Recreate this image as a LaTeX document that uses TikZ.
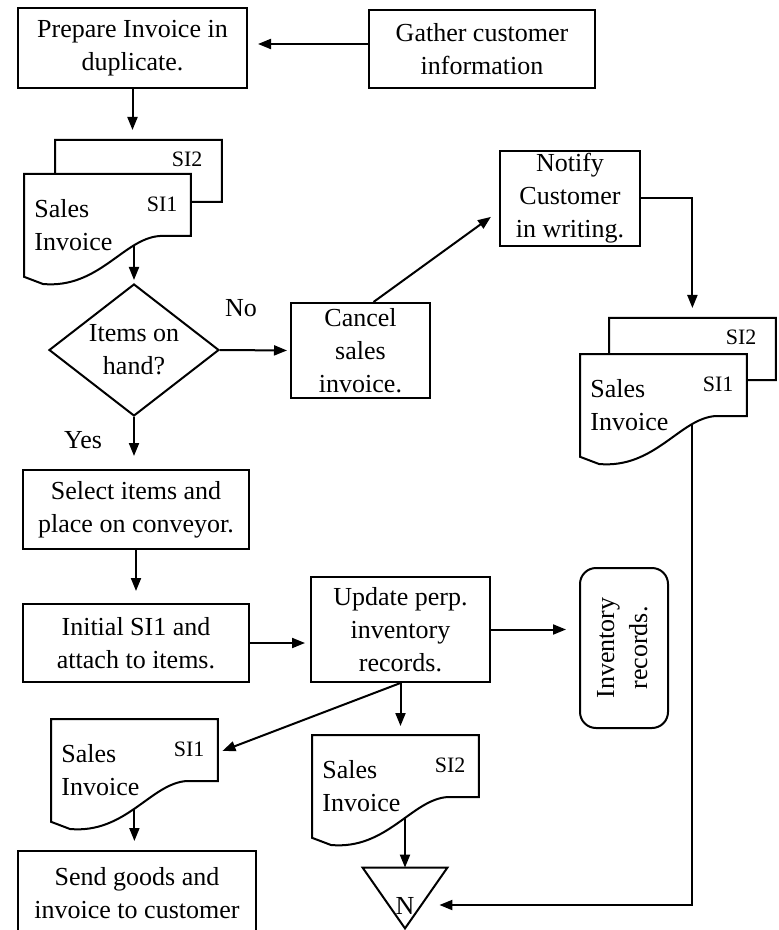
\documentclass[tikz,border=0pt]{standalone}
\usepackage{fontspec}
\usepackage{graphicx}
\setmainfont{Liberation Serif}
\usetikzlibrary{arrows.meta,shapes.geometric,calc}

\pgfdeclarelayer{lines}
\pgfdeclarelayer{docs}
\pgfsetlayers{lines,docs,main}

% outline of a sales invoice document
\newcommand{\docoutline}[1]{%
    \filldraw[fill=white, line width=1pt]
        (#1.north west) -- (#1.north east) -- ($(#1.north east)+(0,62)$)
        -- ($(#1.north west)+(136,62)$)
        .. controls ($(#1.north west)+(100,64)$) and ($(#1.north west)+(75,115)$)
        .. ($(#1.north west)+(19,110)$) -- (#1.south west) -- cycle;}

\begin{document}
\begin{tikzpicture}[
    x=0.5pt, y=-0.5pt,
    font=\fontsize{13}{16.5}\selectfont,
    boxnode/.style={draw, line width=1pt, align=center, inner sep=0pt},
    decisionnode/.style={draw, diamond, aspect=1.3, line width=1pt, align=center, inner sep=0pt, minimum width=85pt, minimum height=66pt},
    recordnode/.style={draw, rounded corners=8pt, line width=1pt, inner sep=0pt, minimum width=44pt, minimum height=80pt},
    invoice/.style={anchor=north west, minimum width=83pt, minimum height=51pt, text width=73pt, inner xsep=5pt, inner ysep=0pt, align=left},
    silabel/.style={anchor=north east, inner sep=0pt, font=\fontsize{11}{13}\selectfont},
    frontdoc/.style={invoice, label={[silabel, xshift=-6.5pt, yshift=-11.5pt]north east:#1}},
    backdoc/.style={invoice, label={[silabel, xshift=-9.5pt, yshift=-6pt]north east:#1}},
    flow/.style={->, >={Triangle[length=6.5pt, width=5pt]}, line width=1pt}
    ]
    \useasboundingbox (0,0) rectangle (778,930);

        %Nodes
        \node[boxnode, minimum width=114.5pt, minimum height=40pt]
            (prep) at (132.5,48) {Prepare Invoice in\\duplicate.};
        \node[boxnode, minimum width=113pt, minimum height=39pt]
            (gather) at (482,49) {Gather customer\\information};
        \node[backdoc=SI2] (doc1b) at (55,140) {};
        \node[frontdoc=SI1] (doc1) at (24,174) {Sales\\Invoice};
        \node[decisionnode] (hand) at (134,350) {Items on\\hand?};
        \node (no) at (241,308) {No};
        \node (yes) at (83,440) {Yes};
        \node[boxnode, minimum width=69.5pt, minimum height=47.5pt]
            (cancel) at (360.5,350.5) {Cancel\\sales\\invoice.};
        \node[boxnode, minimum width=70pt, minimum height=47.5pt]
            (notify) at (570,198.5) {Notify\\Customer\\in writing.};
        \node[backdoc=SI2] (doc2b) at (609,318) {};
        \node[frontdoc=SI1] (doc2) at (580,354) {Sales\\Invoice};
        \node[boxnode, minimum width=113pt, minimum height=39.5pt]
            (select) at (136,509.5) {Select items and\\place on conveyor.};
        \node[boxnode, minimum width=113pt, minimum height=39pt]
            (initial) at (136,643) {Initial SI1 and\\attach to items.};
        \node[boxnode, minimum width=89.5pt, minimum height=52.5pt]
            (update) at (400.5,629.5) {Update perp.\\inventory\\records.};
        \node[recordnode]
            (records) at (624,648) {\rotatebox{90}{\begin{tabular}{@{}c@{}}Inventory\\records.\end{tabular}}};
        \node[frontdoc=SI1] (doc3) at (51,719) {Sales\\Invoice};
        \node[frontdoc=SI2] (doc4) at (312,735) {Sales\\Invoice};
        \node[boxnode, minimum width=119pt, minimum height=42pt]
            (send) at (137,893) {Send goods and\\invoice to customer};
        \node[minimum width=42pt, minimum height=30pt, inner sep=0pt, text height=16.6pt, text depth=0pt]
            (offpage) at (405,898) {N};
        \draw[line width=1pt] (offpage.north west) -- (offpage.north east) -- (offpage.south) -- cycle;

        %Documents
        \begin{pgfonlayer}{docs}
            \docoutline{doc1b}
            \docoutline{doc1}
            \docoutline{doc2b}
            \docoutline{doc2}
            \docoutline{doc3}
            \docoutline{doc4}
        \end{pgfonlayer}

        %Lines
        \begin{pgfonlayer}{lines}
            \draw[flow, shorten >=5pt] ([yshift=2.5pt]gather.west) -- ([yshift=2.5pt]gather.west -| prep.east);
            \draw[flow, shorten >=5pt] (prep.south) -- (prep.south |- doc1b.north);
            \draw[flow, shorten >=1.5pt] (hand.north |- doc1.center) -- (hand.north);
            \draw[flow, shorten >=1.5pt] (hand.east) -- (cancel.west);
            \draw[flow, shorten >=5pt] (cancel.75) -- (notify.190);
            \draw[flow, shorten >=5pt] (notify.east) -| (doc2b.north);
            \draw[flow] (doc2b.north |- doc2.center) |- ([xshift=-4pt, yshift=-3.5pt]offpage.east);
            \draw[flow, shorten >=6.5pt] (hand.south) -- (hand.south |- select.north);
            \draw[flow, shorten >=6pt] (select.south) -- (initial.north);
            \draw[flow, shorten >=2.5pt] (initial.east) -- (initial.east -| update.west);
            \draw[flow, shorten >=6.5pt] (update.east) -- (update.east -| records.west);
            \draw[flow, shorten >=2.5pt] (update.south) -- (doc3.12);
            \draw[flow, shorten >=4.5pt] (update.south) -- (update.south |- doc4.north);
            \draw[flow] (offpage.north |- doc4.center) -- (offpage.north);
            \draw[flow, shorten >=4.5pt] (doc3.center) -- (doc3.center |- send.north);
        \end{pgfonlayer}
\end{tikzpicture}
\end{document}
